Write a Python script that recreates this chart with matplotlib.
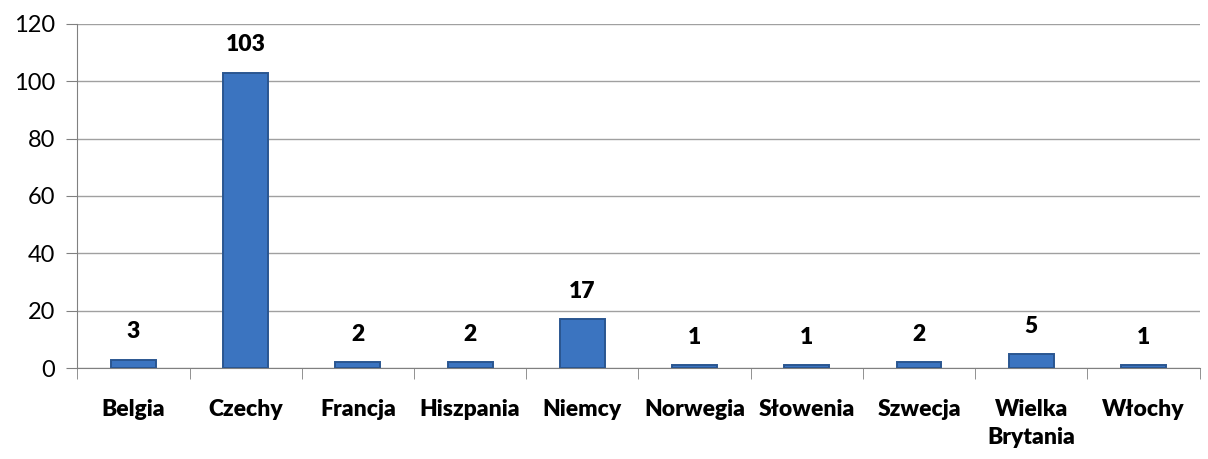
import matplotlib.pyplot as plt
import numpy as np

# data
countries = ['Belgia', 'Czechy', 'Francja', 'Hiszpania', 'Niemcy', 'Norwegia',
             'Słowenia', 'Szwecja', 'Wielka\nBrytania', 'Włochy']
counts = [3, 103, 2, 2, 17, 1, 1, 2, 5, 1]

plt.rcParams['font.family'] = ['Lato', 'DejaVu Sans']

fig = plt.figure(figsize=(12.08, 4.59), dpi=100)
ax = fig.add_axes([0.064, 0.198, 0.929, 0.75])

x = np.arange(len(countries))
ax.bar(x, counts, width=0.4, color='#3b74c0', edgecolor='#2a5690', linewidth=1.4, zorder=3)

# value labels above the bars
for xi, v in zip(x, counts):
    ax.text(xi, v + 6, str(v), ha='center', va='bottom', fontsize=16.5, fontweight='heavy')

ax.set_xlim(-0.5, len(countries) - 0.5)
ax.set_ylim(0, 120)
ax.set_yticks(range(0, 121, 20))
ax.tick_params(axis='y', labelsize=17, length=8, color='#808080', direction='out', pad=8)
ax.yaxis.grid(True, color='#a0a0a0', linewidth=1)
ax.set_axisbelow(True)

# category labels centred, tick marks between categories
ax.set_xticks(x)
ax.set_xticklabels(countries, fontsize=16.5, fontweight='heavy', va='top', linespacing=1.45)
ax.tick_params(axis='x', length=0, pad=22)
ax.set_xticks(np.arange(-0.5, len(countries)), minor=True)
ax.tick_params(axis='x', which='minor', length=8, color='#808080', direction='out')

for side in ['top', 'right']:
    ax.spines[side].set_visible(False)
for side in ['left', 'bottom']:
    ax.spines[side].set_color('#808080')

plt.savefig('out.png', dpi=100)
